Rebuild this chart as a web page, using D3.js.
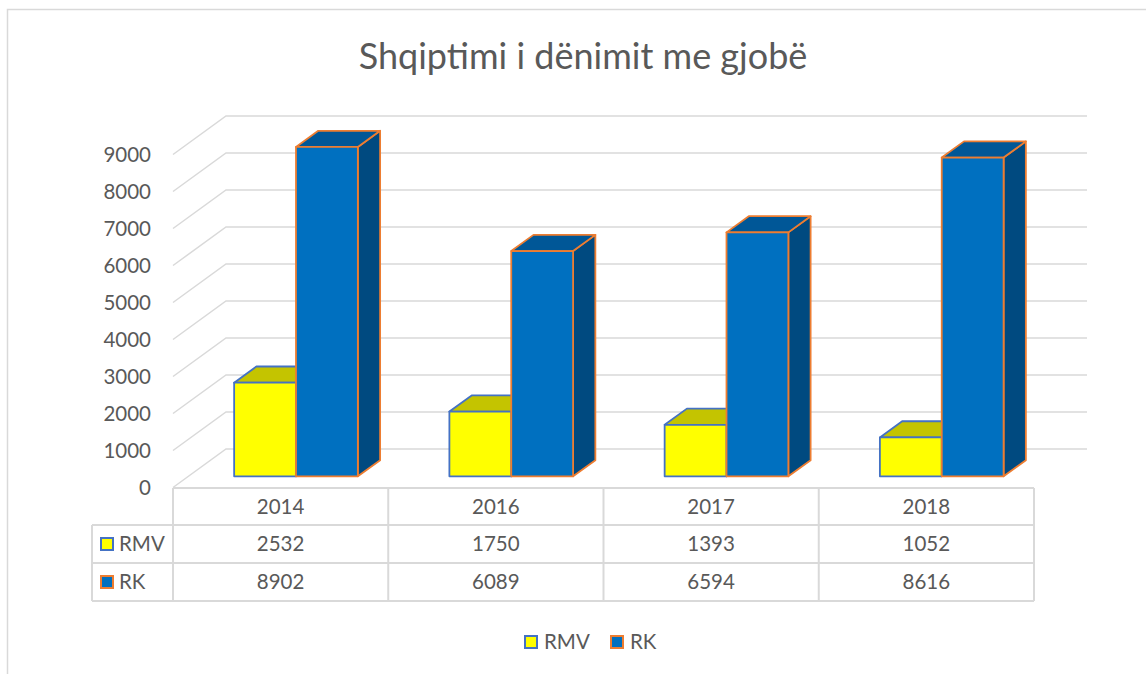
<!DOCTYPE html>
<html>
<head>
<meta charset="utf-8">
<script src="https://cdn.jsdelivr.net/npm/d3@7"></script>
<style>
  body { margin: 0; background: #fff; }
  text { font-family: Lato, "Open Sans", sans-serif; fill: #595959; }
</style>
</head>
<body>
<script>
// chart data
var years = ["2014", "2016", "2017", "2018"];
var rmv = [2532, 1750, 1393, 1052];
var rk = [8902, 6089, 6594, 8616];
var seriesNames = ["RMV", "RK"];
var yTicks = [0, 1000, 2000, 3000, 4000, 5000, 6000, 7000, 8000, 9000];

var W = 1146, H = 674;
var gridColor = "#d9d9d9";
var fs = "20.5px";

var svg = d3.select("body").append("svg")
  .attr("width", W)
  .attr("height", H);

// outer chart border
svg.append("path")
  .attr("d", "M7.5," + H + "V9.5H" + W)
  .attr("fill", "none")
  .attr("stroke", gridColor)
  .attr("stroke-width", 1.5);

// title
svg.append("text")
  .attr("x", 583)
  .attr("y", 69)
  .attr("text-anchor", "middle")
  .style("font-size", "36px")
  .text("Shqiptimi i dënimit me gjobë");

// scales, front plane of the floor
var x = d3.scaleBand().domain(years).range([173, 1034]);
var y = d3.scaleLinear().domain([0, 9000]).range([487.5, 154.5]);
var inner = d3.scaleBand().domain(seriesNames)
  .range([0, x.bandwidth()]).paddingOuter(0.74);

// depth of the 3d box
var DX = 53, DY = -38.5;
function p(px, v, d) {
  return [px + DX * d, y(v) + DY * d];
}

// walls gridlines
var grid = svg.append("g").attr("stroke", gridColor).attr("stroke-width", 1.5).attr("fill", "none");
yTicks.forEach(function(t) {
  var a = p(x.range()[0], t, 0), b = p(x.range()[0], t, 1), c = p(x.range()[1], t, 1);
  grid.append("path").attr("d", "M" + a + "L" + b + "L" + c);
});

// y axis labels
svg.append("g").selectAll("text")
  .data(yTicks)
  .enter().append("text")
  .attr("x", 151)
  .attr("y", function(d) { return y(d); })
  .attr("dy", "0.35em")
  .attr("text-anchor", "end")
  .style("font-size", fs)
  .text(function(d) { return d; });

// bars
var styles = {
  RMV: { front: "#ffff00", top: "#c4c400", side: "#9c9c00", stroke: "#4472c4" },
  RK: { front: "#0070c0", top: "#005797", side: "#004a80", stroke: "#ed7d31" }
};
var d0 = 0.29, d1 = 0.71;

function drawBar(g, x0, x1, v, st) {
  var fbl = p(x0, 0, d0), fbr = p(x1, 0, d0), ftl = p(x0, v, d0), ftr = p(x1, v, d0);
  var btl = p(x0, v, d1), btr = p(x1, v, d1), bbr = p(x1, 0, d1);
  g.append("path")
    .attr("d", "M" + ftr + "L" + btr + "L" + bbr + "L" + fbr + "Z")
    .attr("fill", st.side).attr("stroke", st.stroke).attr("stroke-width", 1.8).attr("stroke-linejoin", "round");
  g.append("path")
    .attr("d", "M" + ftl + "L" + ftr + "L" + btr + "L" + btl + "Z")
    .attr("fill", st.top).attr("stroke", st.stroke).attr("stroke-width", 1.8).attr("stroke-linejoin", "round");
  g.append("path")
    .attr("d", "M" + ftl + "L" + ftr + "L" + fbr + "L" + fbl + "Z")
    .attr("fill", st.front).attr("stroke", st.stroke).attr("stroke-width", 1.8).attr("stroke-linejoin", "round");
}

var bars = svg.append("g");
years.forEach(function(yr, i) {
  var vals = { RMV: rmv[i], RK: rk[i] };
  seriesNames.forEach(function(s) {
    var x0 = x(yr) + inner(s);
    drawBar(bars, x0, x0 + inner.bandwidth(), vals[s], styles[s]);
  });
});

// data table
var rowTop = 488, rowH = [37, 38, 38];
var tLeft = 92, tRight = x.range()[1];
var tbl = svg.append("g").attr("stroke", gridColor).attr("stroke-width", 2).attr("fill", "none");
var r1 = rowTop + rowH[0], r2 = r1 + rowH[1], r3 = r2 + rowH[2];
tbl.append("path").attr("d", "M" + x.range()[0] + "," + rowTop + "H" + tRight);
tbl.append("path").attr("d", "M" + tLeft + "," + r1 + "H" + tRight);
tbl.append("path").attr("d", "M" + tLeft + "," + r2 + "H" + tRight);
tbl.append("path").attr("d", "M" + tLeft + "," + r3 + "H" + tRight);
tbl.append("path").attr("d", "M" + tLeft + "," + r1 + "V" + r3);
years.forEach(function(yr) {
  tbl.append("path").attr("d", "M" + x(yr) + "," + rowTop + "V" + r3);
});
tbl.append("path").attr("d", "M" + tRight + "," + rowTop + "V" + r3);

var cellText = svg.append("g").style("font-size", fs).attr("text-anchor", "middle");
years.forEach(function(yr, i) {
  var cx = x(yr) + x.bandwidth() / 2;
  cellText.append("text").attr("x", cx).attr("y", rowTop + rowH[0] / 2).attr("dy", "0.35em").text(yr);
  cellText.append("text").attr("x", cx).attr("y", r1 + rowH[1] / 2).attr("dy", "0.35em").text(rmv[i]);
  cellText.append("text").attr("x", cx).attr("y", r2 + rowH[2] / 2).attr("dy", "0.35em").text(rk[i]);
});

// row headers with keys
function key(g, kx, ky, st) {
  g.append("rect")
    .attr("x", kx).attr("y", ky)
    .attr("width", 12).attr("height", 12)
    .attr("fill", st.front).attr("stroke", st.stroke).attr("stroke-width", 2);
}
[r1, r2].forEach(function(rt, i) {
  var s = seriesNames[i];
  key(svg, 101, rt + 13, styles[s]);
  svg.append("text").attr("x", 119).attr("y", rt + 19).attr("dy", "0.35em")
    .style("font-size", fs).text(s);
});

// bottom legend
var legendX = [525, 611];
seriesNames.forEach(function(s, i) {
  key(svg, legendX[i], 636, styles[s]);
  svg.append("text").attr("x", legendX[i] + 19).attr("y", 642).attr("dy", "0.35em")
    .style("font-size", fs).text(s);
});
</script>
</body>
</html>
